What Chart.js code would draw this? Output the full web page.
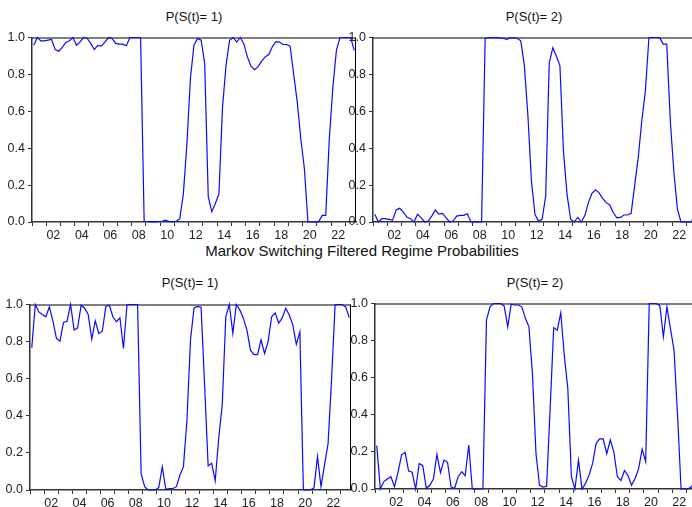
<!DOCTYPE html>
<html lang="en">
<head>
<meta charset="UTF-8">
<title>Markov Switching Filtered Regime Probabilities</title>
<script src="https://cdn.jsdelivr.net/npm/chart.js"></script>
<style>
    html, body {
        margin: 0;
        padding: 0;
        background: #ffffff;
        width: 692px;
        height: 507px;
        overflow: hidden;
    }
    body {
        position: relative;
        font-family: "Liberation Sans", Arial, sans-serif;
    }
    canvas {
        position: absolute;
    }
    .title {
        position: absolute;
        transform: translate(-50%, -50%);
        font-size: 13px;
        color: #111;
        white-space: nowrap;
    }
    #mainTitle {
        font-size: 15px;
    }
</style>
</head>
<body>

<div class="title" style="left:194px; top:16px;">P(S(t)= 1)</div>
<div class="title" style="left:534px; top:16px;">P(S(t)= 2)</div>
<div class="title" id="mainTitle" style="left:362px; top:250px;">Markov Switching Filtered Regime Probabilities</div>
<div class="title" style="left:190px; top:282px;">P(S(t)= 1)</div>
<div class="title" style="left:535px; top:282px;">P(S(t)= 2)</div>

<canvas id="topLeft" width="357" height="225" style="left:2px; top:27px;"></canvas>
<canvas id="topRight" width="359" height="225" style="left:341px; top:27px;"></canvas>
<canvas id="bottomLeft" width="354" height="226" style="left:0px; top:294px;"></canvas>
<canvas id="bottomRight" width="357" height="226" style="left:343px; top:293px;"></canvas>

<script>
    // quarterly sample 2001Q1 - 2023Q3 (91 observations)
    const firstYear = 2001;
    const yearLabels = ['02', '04', '06', '08', '10', '12', '14', '16', '18', '20', '22'];
    const yTicks = [0, 0.2, 0.4, 0.6, 0.8, 1.0];

    // upper model: filtered probability of regime 1
    const p1Upper = [
        0.958, 1.0, 0.982, 0.982, 0.986, 0.99, 0.935, 0.926, 0.946, 0.973,
        0.982, 1.0, 0.958, 0.976, 1.0, 0.995, 0.968, 0.935, 0.957, 0.953,
        0.976, 1.0, 0.995, 0.968, 0.964, 0.964, 0.955, 1.0, 1.0, 1.0,
        1.0, 0.004, 0.002, 0.001, 0.001, 0.002, 0.004, 0.01, 0.002, 0.002,
        0.004, 0.018, 0.15, 0.42, 0.78, 0.96, 0.995, 0.985, 0.86, 0.137,
        0.056, 0.1, 0.152, 0.62, 0.85, 0.985, 1.0, 0.975, 1.0, 0.965,
        0.895, 0.845, 0.826, 0.842, 0.872, 0.895, 0.908, 0.95, 0.978, 0.975,
        0.962, 0.962, 0.953, 0.8, 0.65, 0.45, 0.29, 0.0, 0.0, 0.0,
        0.001, 0.036, 0.036, 0.45, 0.73, 0.93, 1.0, 1.0, 1.0, 1.0,
        0.93
    ];

    // upper model: filtered probability of regime 2
    const p2Upper = [
        0.042, 0.0, 0.018, 0.018, 0.014, 0.01, 0.065, 0.074, 0.054, 0.027,
        0.018, 0.0, 0.042, 0.024, 0.0, 0.005, 0.032, 0.065, 0.043, 0.047,
        0.024, 0.0, 0.005, 0.032, 0.036, 0.036, 0.045, 0.0, 0.0, 0.0,
        0.0, 0.996, 0.998, 0.999, 0.999, 0.998, 0.996, 0.99, 0.998, 0.998,
        0.996, 0.982, 0.85, 0.58, 0.22, 0.04, 0.005, 0.015, 0.14, 0.863,
        0.944, 0.9, 0.848, 0.38, 0.15, 0.015, 0.0, 0.025, 0.0, 0.035,
        0.105, 0.155, 0.174, 0.158, 0.128, 0.105, 0.092, 0.05, 0.022, 0.025,
        0.038, 0.038, 0.047, 0.2, 0.35, 0.55, 0.71, 1.0, 1.0, 1.0,
        0.999, 0.964, 0.964, 0.55, 0.27, 0.07, 0.0, 0.0, 0.0, 0.0,
        0.07
    ];

    // lower model: filtered probability of regime 1
    const p1Lower = [
        0.766, 1.0, 0.96, 0.946, 0.934, 0.987, 0.91, 0.817, 0.802, 0.903,
        0.91, 1.0, 0.862, 0.874, 0.996, 0.98, 0.946, 0.813, 0.912, 0.844,
        0.856, 0.99, 0.996, 0.934, 0.907, 0.928, 0.763, 1.0, 1.0, 1.0,
        1.0, 0.09, 0.018, 0.0, 0.0, 0.0, 0.013, 0.126, 0.004, 0.008,
        0.008, 0.018, 0.08, 0.126, 0.38, 0.81, 0.98, 0.99, 0.985, 0.566,
        0.13, 0.144, 0.05, 0.28, 0.46, 0.934, 1.0, 0.844, 1.0, 0.97,
        0.925, 0.862, 0.754, 0.73, 0.73, 0.81, 0.736, 0.8, 0.934, 0.955,
        0.9, 0.928, 0.98, 0.943, 0.89, 0.785, 0.853, 0.0, 0.0, 0.0,
        0.012, 0.18, 0.018, 0.135, 0.25, 0.6, 1.0, 1.0, 1.0, 0.987,
        0.93
    ];

    // lower model: filtered probability of regime 2
    const p2Lower = [
        0.234, 0.0, 0.04, 0.054, 0.066, 0.013, 0.09, 0.183, 0.198, 0.097,
        0.09, 0.0, 0.138, 0.126, 0.004, 0.02, 0.054, 0.187, 0.088, 0.156,
        0.144, 0.01, 0.004, 0.066, 0.093, 0.072, 0.237, 0.0, 0.0, 0.0,
        0.0, 0.91, 0.982, 1.0, 1.0, 1.0, 0.987, 0.874, 0.996, 0.992,
        0.992, 0.982, 0.92, 0.874, 0.62, 0.19, 0.02, 0.01, 0.015, 0.434,
        0.87, 0.856, 0.95, 0.72, 0.54, 0.066, 0.0, 0.156, 0.0, 0.03,
        0.075, 0.138, 0.246, 0.27, 0.27, 0.19, 0.264, 0.2, 0.066, 0.045,
        0.1, 0.072, 0.02, 0.057, 0.11, 0.215, 0.147, 1.0, 1.0, 1.0,
        0.988, 0.82, 0.982, 0.865, 0.75, 0.4, 0.0, 0.0, 0.0, 0.013,
        0.07
    ];

    const axisFont = { family: '"Liberation Sans", Arial, sans-serif', size: 12.5 };

    // top and right edges of the frame box
    const framePlugin = {
        id: 'frame',
        beforeDatasetsDraw(chart) {
            const a = chart.chartArea;
            const ctx = chart.ctx;
            ctx.save();
            ctx.strokeStyle = '#000';
            ctx.lineWidth = 1;
            ctx.beginPath();
            ctx.moveTo(a.left, a.top + 0.5);
            ctx.lineTo(a.right, a.top + 0.5);
            ctx.moveTo(a.right - 0.5, a.top);
            ctx.lineTo(a.right - 0.5, a.bottom);
            ctx.stroke();
            ctx.restore();
        }
    };

    function makePanel(id, values, yWidth) {
        const nObs = values.length;
        return new Chart(document.getElementById(id), {
            type: 'line',
            data: {
                datasets: [{
                    data: values.map((v, i) => ({ x: i + 0.5, y: v })),
                    borderColor: '#0a0aff',
                    borderWidth: 1.2,
                    pointRadius: 0,
                    tension: 0,
                    clip: false
                }]
            },
            options: {
                responsive: false,
                animation: false,
                layout: { padding: { top: 10, right: 3, bottom: 0, left: 0 } },
                plugins: {
                    legend: { display: false },
                    tooltip: { enabled: false }
                },
                scales: {
                    x: {
                        type: 'linear',
                        min: 0,
                        max: nObs,
                        afterBuildTicks: (scale) => {
                            const t = [];
                            for (let v = 0; v <= nObs; v += 2) t.push({ value: v });
                            scale.ticks = t;
                        },
                        afterFit: (scale) => { scale.height = 30; },
                        grid: {
                            drawOnChartArea: false,
                            tickLength: 4,
                            tickWidth: 1,
                            tickColor: (c) => (c.tick && c.tick.value % 4 === 0) ? '#333' : 'rgba(0,0,0,0)'
                        },
                        border: { color: '#333', width: 1.5 },
                        ticks: {
                            autoSkip: false,
                            maxRotation: 0,
                            padding: 2,
                            color: '#222',
                            font: axisFont,
                            callback: (v) => {
                                // labels sit in the middle of each even year
                                if ((v - 6) % 8 !== 0) return '';
                                return yearLabels[(v - 6) / 8] || '';
                            }
                        }
                    },
                    y: {
                        min: 0,
                        max: 1,
                        afterBuildTicks: (scale) => {
                            scale.ticks = yTicks.map(v => ({ value: v }));
                        },
                        afterFit: (scale) => { scale.width = yWidth; },
                        grid: {
                            drawOnChartArea: false,
                            tickLength: 4,
                            tickColor: '#333'
                        },
                        border: { color: '#333', width: 1.5 },
                        ticks: {
                            padding: 3,
                            color: '#222',
                            font: axisFont,
                            callback: (v) => Number(v).toFixed(1)
                        }
                    }
                }
            },
            plugins: [framePlugin]
        });
    }

    makePanel('topLeft', p1Upper, 30);
    makePanel('topRight', p2Upper, 32);
    makePanel('bottomLeft', p1Lower, 30);
    makePanel('bottomRight', p2Lower, 32);
</script>

</body>
</html>
